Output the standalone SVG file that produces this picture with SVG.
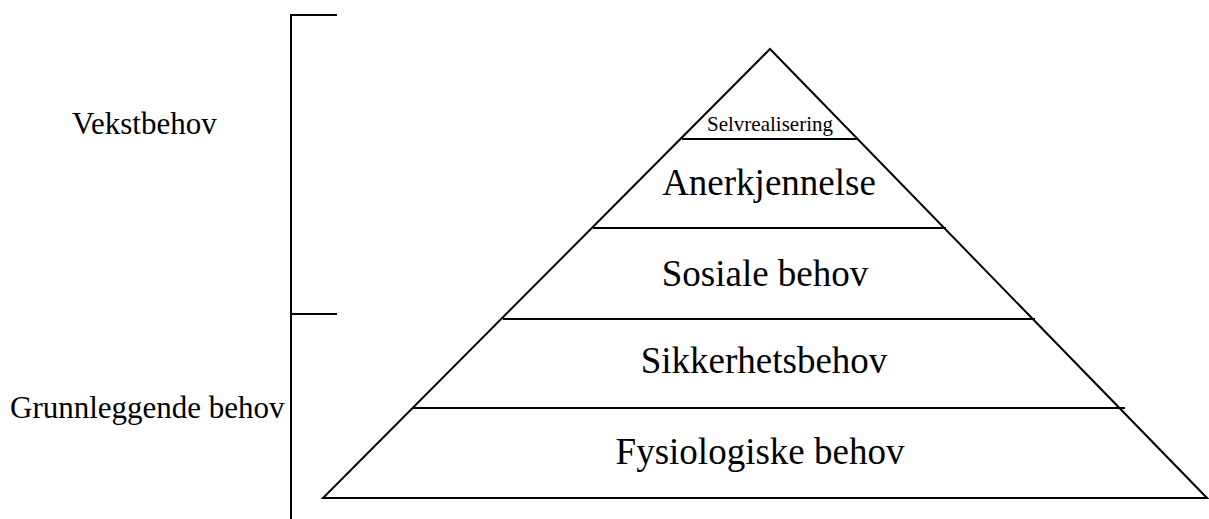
<svg xmlns="http://www.w3.org/2000/svg" width="1209" height="519" viewBox="0 0 1209 519">
<style>
.ln{stroke:#000;stroke-width:2;fill:none}
.t{font-family:"Liberation Serif","Times New Roman",serif;fill:#000}
.big{font-size:37px;text-anchor:middle}
.side{font-size:31px}
</style>
<rect width="1209" height="519" fill="#fff"/>
<g id="bracket">
<path class="ln" d="M337 15H291V519M291 314H337"/>
</g>
<g id="pyramid">
<path class="ln" d="M770 49L323 498H1207Z" stroke-linejoin="miter"/>
</g>
<g id="connectors">
<line class="ln" x1="682" y1="139" x2="858" y2="139"/>
<line class="ln" x1="593" y1="228" x2="946" y2="228"/>
<line class="ln" x1="503" y1="319" x2="1035" y2="319"/>
<line class="ln" x1="413" y1="408" x2="1125" y2="408"/>
</g>
<g id="n-selv"><text class="t" x="770" y="131" font-size="21" text-anchor="middle">Selvrealisering</text></g>
<g id="n-aner"><text class="t big" x="769" y="195" font-size="35">Anerkjennelse</text></g>
<g id="n-sos"><text class="t big" x="765" y="286">Sosiale behov</text></g>
<g id="n-sikk"><text class="t big" x="764" y="373">Sikkerhetsbehov</text></g>
<g id="n-fys"><text class="t big" x="760" y="464">Fysiologiske behov</text></g>
<g id="n-vekst"><text class="t side" x="72" y="134">Vekstbehov</text></g>
<g id="n-grunn"><text class="t side" x="10" y="418">Grunnleggende behov</text></g>
</svg>
